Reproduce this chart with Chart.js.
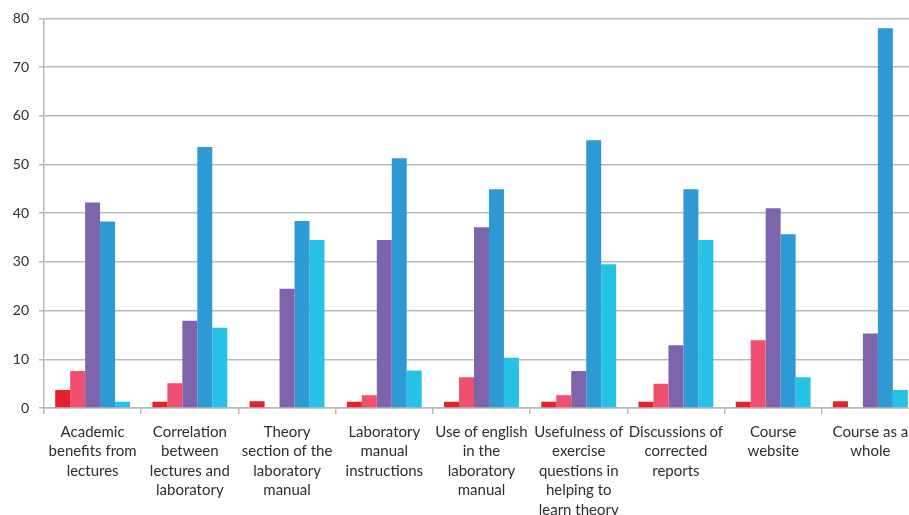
<!DOCTYPE html>
<html>
<head>
<meta charset="utf-8">
<script src="https://cdn.jsdelivr.net/npm/chart.js@4/dist/chart.umd.min.js"></script>
<style>
  html, body { margin: 0; padding: 0; background: #ffffff; overflow: hidden; }
  #wrap { width: 919px; height: 530px; }
</style>
</head>
<body>
<div id="wrap"><canvas id="c" width="919" height="530"></canvas></div>
<script>
const categories = [
  ["Academic", "benefits from", "lectures"],
  ["Correlation", "between", "lectures and", "laboratory"],
  ["Theory", "section of the", "laboratory", "manual"],
  ["Laboratory", "manual", "instructions"],
  ["Use of english", "in the", "laboratory", "manual"],
  ["Usefulness of", "exercise", "questions in", "helping to", "learn theory"],
  ["Discussions of", "corrected", "reports"],
  ["Course", "website"],
  ["Course as a", "whole"]
];
const seriesNames = ["1", "2", "3", "4", "5"];
const series1 = [3.7, 1.3, 1.4, 1.3, 1.3, 1.3, 1.3, 1.3, 1.4];
const series2 = [7.6, 5.1, 0, 2.6, 6.3, 2.6, 5.0, 13.9, 0];
const series3 = [42.2, 17.9, 24.5, 34.5, 37.1, 7.6, 12.9, 41.0, 15.3];
const series4 = [38.3, 53.6, 38.4, 51.3, 44.9, 55.0, 44.9, 35.7, 78.0];
const series5 = [1.3, 16.5, 34.5, 7.7, 10.3, 29.5, 34.5, 6.3, 3.7];
const yTicks = [0, 10, 20, 30, 40, 50, 60, 70, 80];

const colors = ["#E5222A", "#EF5070", "#7D64AC", "#2D9AD6", "#26C2E5"];
const allSeries = [series1, series2, series3, series4, series5];

const gridColor = "#b9b9b9";

new Chart(document.getElementById("c"), {
  type: "bar",
  data: {
    labels: categories,
    datasets: allSeries.map((d, i) => ({
      label: seriesNames[i],
      data: d,
      backgroundColor: colors[i],
      borderWidth: 0,
      barPercentage: 1.0,
      categoryPercentage: 0.77
    }))
  },
  options: {
    responsive: false,
    devicePixelRatio: 1,
    animation: false,
    layout: { padding: { top: 17, right: 0, left: 0, bottom: 0 } },
    plugins: {
      legend: { display: false },
      tooltip: { enabled: false }
    },
    scales: {
      x: {
        offset: true,
        grid: {
          display: true,
          drawOnChartArea: false,
          drawTicks: true,
          tickLength: 6,
          color: gridColor,
          lineWidth: 1.5,
          offset: true
        },
        border: { display: true, color: gridColor, width: 1.5 },
        ticks: {
          autoSkip: false,
          maxRotation: 0,
          minRotation: 0,
          padding: 8,
          color: "#2e2e2e",
          font: { family: "Lato", size: 15, lineHeight: 1.3 }
        },
        afterFit: (s) => { s.height = 122; }
      },
      y: {
        min: 0,
        max: 80,
        afterBuildTicks: (s) => { s.ticks = yTicks.map(v => ({ value: v })); },
        grid: {
          color: gridColor,
          lineWidth: 1.5,
          drawTicks: true,
          tickLength: 5
        },
        border: { display: true, color: gridColor, width: 1.5 },
        ticks: {
          padding: 10,
          color: "#2e2e2e",
          font: { family: "Lato", size: 14 }
        },
        afterFit: (s) => { s.width = 44; }
      }
    }
  }
});
</script>
</body>
</html>
